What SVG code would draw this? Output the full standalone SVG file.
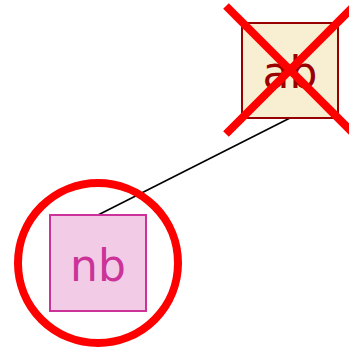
<svg xmlns="http://www.w3.org/2000/svg" width="349" height="347" viewBox="0 0 349 347">
  <style>
    .lbl { font-family: "DejaVu Sans", sans-serif; font-size: 44px; text-anchor: middle; }
    .edge { stroke: #000; stroke-width: 1.6; fill: none; }
    .mark { stroke: #ff0000; stroke-width: 8; fill: none; }
  </style>
  <rect width="349" height="347" fill="#ffffff"/>
  <g id="connectors">
    <line class="edge" x1="98" y1="215" x2="290" y2="118"/>
  </g>
  <g id="node-ab">
    <rect x="242" y="23" width="96" height="95" fill="#f8efd3" stroke="#990000" stroke-width="2"/>
    <text class="lbl" x="290" y="88" fill="#990000">ab</text>
    <line class="mark" x1="226" y1="6" x2="354" y2="134"/>
    <line class="mark" x1="354" y1="6" x2="226" y2="134"/>
  </g>
  <g id="node-nb">
    <rect x="50" y="215" width="96" height="96" fill="#f2cce6" stroke="#cc3399" stroke-width="2"/>
    <text class="lbl" x="98" y="281" fill="#cc3399">nb</text>
    <circle class="mark" cx="98" cy="263" r="80" stroke-width="7"/>
  </g>
</svg>
